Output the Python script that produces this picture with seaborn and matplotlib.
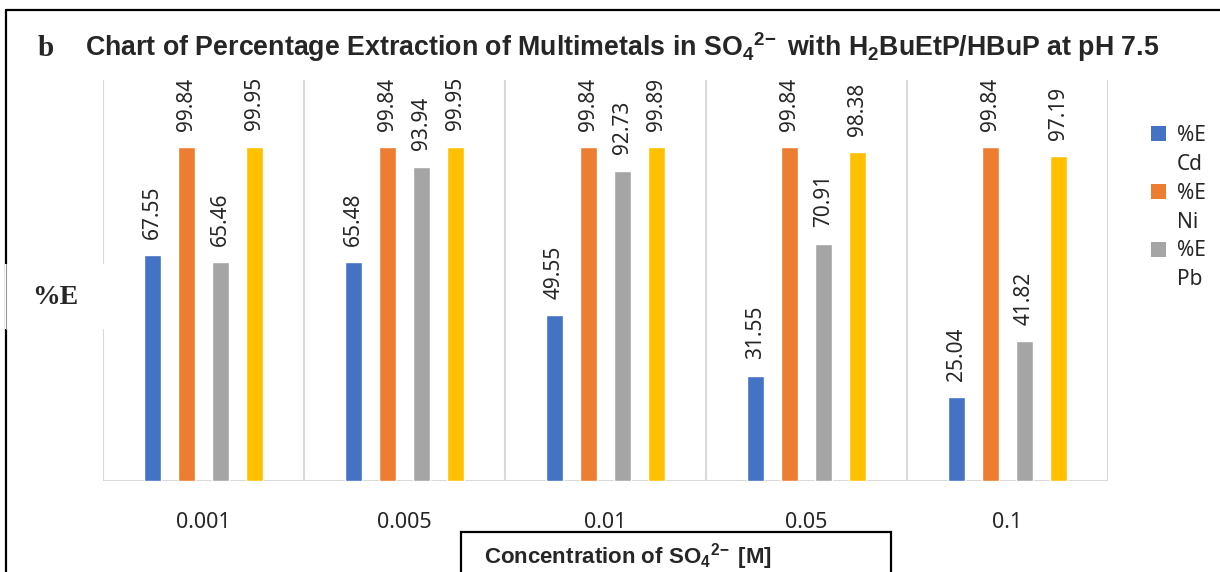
import matplotlib
matplotlib.use("Agg")
import matplotlib.pyplot as plt
import seaborn as sns
import pandas as pd
from matplotlib.patches import Rectangle, Patch
from matplotlib.lines import Line2D

categories = ["0.001", "0.005", "0.01", "0.05", "0.1"]
series_names = ["%E Cd", "%E Ni", "%E Pb", "%E Zn"]
cd_values = [67.55, 65.48, 49.55, 31.55, 25.04]
ni_values = [99.84, 99.84, 99.84, 99.84, 99.84]
pb_values = [65.46, 93.94, 92.73, 70.91, 41.82]
zn_values = [99.95, 99.95, 99.89, 98.38, 97.19]
colors = ["#4472C4", "#ED7D31", "#A5A5A5", "#FFC000"]

rows = []
for name, vals in zip(series_names, [cd_values, ni_values, pb_values, zn_values]):
    for c, v in zip(categories, vals):
        rows.append({"conc": c, "series": name, "value": v})
df = pd.DataFrame(rows)

sns.set_style("white")
plt.rcParams["font.family"] = ["Noto Sans", "DejaVu Sans"]
plt.rcParams["mathtext.fontset"] = "custom"
plt.rcParams["mathtext.rm"] = "Liberation Sans:bold"
plt.rcParams["mathtext.it"] = "Liberation Sans:bold"
plt.rcParams["mathtext.bf"] = "Liberation Sans:bold"

fig = plt.figure(figsize=(12.2, 5.72), dpi=100)
ax = fig.add_axes([103 / 1220, 91 / 572, 1005 / 1220, 401 / 572])

sns.barplot(data=df, x="conc", y="value", hue="series", order=categories,
            hue_order=series_names, palette=colors, width=0.68, gap=0.5,
            saturation=1, ax=ax, legend=False, errorbar=None)

for cont in ax.containers:
    ax.bar_label(cont, fmt="%.2f", rotation=90, padding=12, fontsize=15,
                 color="#262626")

ax.set_xlim(-0.5, 4.5)
ax.set_ylim(0, 120)
ax.set_yticks([])
ax.set_xlabel("")
ax.set_ylabel("")
for s in ax.spines.values():
    s.set_visible(False)
for xb in [-0.5, 0.5, 1.5, 2.5, 3.5, 4.5]:
    ax.axvline(xb, color="#D9D9D9", lw=1.5, zorder=0)
ax.axhline(0, color="#D9D9D9", lw=1.5, zorder=0)
ax.tick_params(axis="x", length=0, pad=22, labelsize=15.5, labelcolor="#262626")

handles = []
labels = []
names = ["Cd", "Ni", "Pb"]
for col, nm in zip(colors[:3], names):
    handles.append(Patch(facecolor=col, edgecolor="none"))
    labels.append("%E")
    handles.append(Patch(facecolor="none", edgecolor="none"))
    labels.append(nm)
fig.legend(handles, labels, loc="upper left", bbox_to_anchor=(1132 / 1220, 1 - 106 / 572),
           frameon=False, fontsize=15, handlelength=0.75, handleheight=0.75,
           handletextpad=0.5, labelspacing=0.38, labelcolor="#262626")

# figure frame lines
fig.add_artist(Line2D([6 / 1220, 6 / 1220], [0, 1 - 10 / 572], transform=fig.transFigure,
                      color="black", lw=1.6))
fig.add_artist(Line2D([6 / 1220, 1], [1 - 10 / 572, 1 - 10 / 572], transform=fig.transFigure,
                      color="black", lw=1.6))

fig.text(38 / 1220, 1 - 49 / 572, "b", fontsize=21, fontweight="bold",
         family="Liberation Serif", ha="left", va="center")
fig.text(85 / 1220, 1 - 47 / 572,
         "Chart of Percentage Extraction of Multimetals in SO$_4$$^{2\!-}$ with H$_2$BuEtP/HBuP at pH 7.5",
         fontsize=19.3, fontweight="bold", family="Liberation Sans", ha="left", va="center")

# %E box
fig.add_artist(Rectangle((5 / 1220, 1 - 329 / 572), 100 / 1220, 65 / 572,
                         transform=fig.transFigure, facecolor="white", edgecolor="none",
                         zorder=5))
fig.add_artist(Line2D([5.5 / 1220, 5.5 / 1220], [1 - 329 / 572, 1 - 264 / 572],
                      transform=fig.transFigure, color="#999999", lw=0.8, zorder=6))
fig.text(55 / 1220, 1 - 298 / 572, "%E", fontsize=20, fontweight="bold",
         family="Liberation Serif", ha="center", va="center", zorder=7)

# x-label box
fig.add_artist(Rectangle((461 / 1220, -0.05), 430 / 1220, 0.05 + (572 - 532) / 572,
                         transform=fig.transFigure, facecolor="white", edgecolor="black",
                         lw=1.6, zorder=5))
fig.text(484 / 1220, 1 - 557 / 572, "Concentration of SO$_4$$^{2\!-}$ [M]", fontsize=16,
         fontweight="bold", family="Liberation Sans", ha="left", va="center", zorder=7)

fig.savefig("out.png", dpi=100)
